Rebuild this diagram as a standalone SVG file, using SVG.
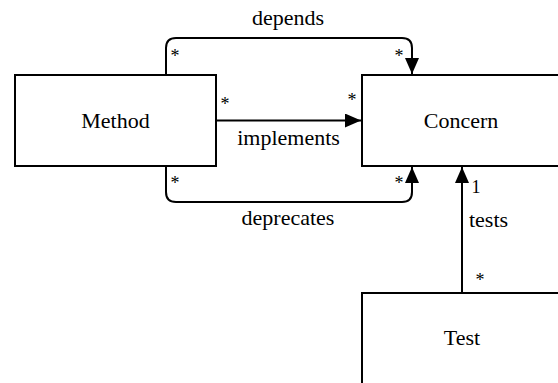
<svg xmlns="http://www.w3.org/2000/svg" width="558" height="383" viewBox="0 0 558 383" font-family="Liberation Serif, Times New Roman, serif">
<style>
.box{fill:#fff;stroke:#000;stroke-width:2}
text{fill:#000;text-anchor:middle}
.lbl{font-size:22px}
.m{font-size:18px}
.edge{fill:none;stroke:#000;stroke-width:2}
</style>
<defs>
<marker id="arr" markerUnits="userSpaceOnUse" markerWidth="16" markerHeight="14" refX="16" refY="7" orient="auto">
<path d="M0,0 L16,7 L0,14 z" fill="#000"/>
</marker>
</defs>
<rect width="558" height="383" fill="#fff"/>
<g id="connectors">
<path class="edge" d="M166,75 V48 Q166,38 176,38 H402 Q412,38 412,48 V74" marker-end="url(#arr)"/>
<path class="edge" d="M216,120.5 H361" marker-end="url(#arr)"/>
<path class="edge" d="M166,166 V192 Q166,202 176,202 H402 Q412,202 412,192 V167" marker-end="url(#arr)"/>
<path class="edge" d="M462,293 V167" marker-end="url(#arr)"/>
<text class="lbl" x="288" y="25">depends</text>
<text class="lbl" x="288.5" y="145">implements</text>
<text class="lbl" x="288" y="225">deprecates</text>
<text class="lbl" x="488.5" y="227">tests</text>
<text class="m" x="175" y="62">*</text>
<text class="m" x="399" y="62">*</text>
<text class="m" x="225" y="110">*</text>
<text class="m" x="352" y="106">*</text>
<text class="m" x="175" y="189">*</text>
<text class="m" x="399" y="189">*</text>
<text class="m" x="476" y="193">1</text>
<text class="m" x="480" y="286">*</text>
</g>
<g id="method">
<rect class="box" x="15" y="75" width="201" height="91"/>
<text class="lbl" x="115.5" y="128">Method</text>
</g>
<g id="concern">
<rect class="box" x="362" y="75" width="200" height="91"/>
<text class="lbl" x="461" y="128">Concern</text>
</g>
<g id="test">
<rect class="box" x="362" y="293" width="200" height="100"/>
<text class="lbl" x="462" y="345">Test</text>
</g>
</svg>
